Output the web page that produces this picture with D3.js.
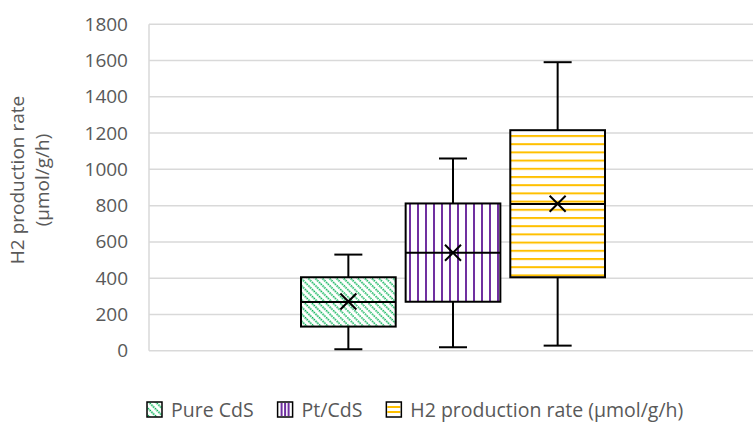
<!DOCTYPE html>
<html>
<head>
<meta charset="utf-8">
<script src="https://cdn.jsdelivr.net/npm/d3@7"></script>
<style>
  html, body { margin: 0; padding: 0; background: #fff; }
  svg { display: block; }
  text { font-family: "Open Sans", sans-serif; fill: #595959; }
</style>
</head>
<body>
<svg id="chart" width="753" height="424"></svg>
<script>
// ---- data ----
const seriesNames = ["Pure CdS", "Pt/CdS", "H2 production rate (µmol/g/h)"];
const mins    = [8, 19, 28];
const q1s     = [133, 270, 405];
const medians = [269, 540, 809];
const q3s     = [405, 812, 1216];
const maxs    = [530, 1060, 1591];
const means   = [271, 540, 810];
const yTicks  = [0, 200, 400, 600, 800, 1000, 1200, 1400, 1600, 1800];
const yTitle  = ["H2 production rate", "(µmol/g/h)"];
const colors  = ["#00b050", "#7030a0", "#ffc000"];

const FS = "19px";
const svg = d3.select("#chart");
const plot = { left: 149, right: 757, top: 24.3, bottom: 350.7 };

const y = d3.scaleLinear().domain([0, 1800]).range([plot.bottom, plot.top]);
const x0 = d3.scaleBand().domain(["g"]).range([plot.left, plot.right]).paddingInner(0).paddingOuter(0.5);
const x1 = d3.scaleBand().domain(seriesNames).range([x0("g"), x0("g") + x0.bandwidth()]).paddingInner(0.095).paddingOuter(0);

// ---- patterns ----
const defs = svg.append("defs");
const pGreen = defs.append("pattern").attr("id", "pat0").attr("patternUnits", "userSpaceOnUse")
  .attr("width", 5).attr("height", 5).attr("patternTransform", "rotate(-45)");
pGreen.append("rect").attr("width", 5).attr("height", 5).attr("fill", "#fff");
pGreen.append("line").attr("x1", 1.2).attr("x2", 1.2).attr("y1", 0).attr("y2", 5)
  .attr("stroke", colors[0]).attr("stroke-width", 1.7).attr("stroke-dasharray", "1.5,1");

const pPurple = defs.append("pattern").attr("id", "pat1").attr("patternUnits", "userSpaceOnUse")
  .attr("width", 8).attr("height", 8).attr("x", 409);
pPurple.append("rect").attr("width", 8).attr("height", 8).attr("fill", "#fff");
pPurple.append("line").attr("x1", 1).attr("x2", 1).attr("y1", 0).attr("y2", 8)
  .attr("stroke", colors[1]).attr("stroke-width", 2);

const pYellow = defs.append("pattern").attr("id", "pat2").attr("patternUnits", "userSpaceOnUse")
  .attr("width", 8).attr("height", 8.2).attr("y", 135);
pYellow.append("rect").attr("width", 8).attr("height", 8.2).attr("fill", "#fff");
pYellow.append("line").attr("x1", 0).attr("x2", 8).attr("y1", 1).attr("y2", 1)
  .attr("stroke", colors[2]).attr("stroke-width", 2);

// ---- gridlines ----
svg.append("g").selectAll("line").data(yTicks).join("line")
  .attr("x1", plot.left).attr("x2", 753)
  .attr("y1", d => y(d)).attr("y2", d => y(d))
  .attr("stroke", "#d9d9d9").attr("stroke-width", 1.5);
svg.append("line").attr("x1", plot.left).attr("x2", plot.left)
  .attr("y1", plot.top).attr("y2", plot.bottom)
  .attr("stroke", "#d9d9d9").attr("stroke-width", 1.5);

// ---- y axis ----
const yAxis = d3.axisLeft(y).tickValues(yTicks).tickFormat(d3.format("d")).tickSize(0).tickPadding(21);
const ga = svg.append("g").attr("transform", `translate(${plot.left},0)`).call(yAxis);
ga.select(".domain").remove();
ga.selectAll("text").attr("font-size", FS).attr("font-family", "Open Sans").attr("fill", "#595959");

// y title
const yt = svg.append("text").attr("transform", "translate(0,180) rotate(-90)")
  .attr("text-anchor", "middle").attr("font-size", FS);
yt.append("tspan").attr("x", 0).attr("y", 24).text(yTitle[0]);
yt.append("tspan").attr("x", 0).attr("y", 49).text(yTitle[1]);

// ---- boxes ----
const data = seriesNames.map((n, i) => ({ name: n, i, min: mins[i], q1: q1s[i], med: medians[i], q3: q3s[i], max: maxs[i], mean: means[i] }));
const g = svg.append("g");
const capW = 28;
data.forEach(d => {
  const bx = x1(d.name), bw = x1.bandwidth(), cx = bx + bw / 2;
  const gg = g.append("g");
  gg.append("line").attr("x1", cx).attr("x2", cx).attr("y1", y(d.q3)).attr("y2", y(d.max)).attr("stroke", "#000").attr("stroke-width", 2);
  gg.append("line").attr("x1", cx).attr("x2", cx).attr("y1", y(d.q1)).attr("y2", y(d.min)).attr("stroke", "#000").attr("stroke-width", 2);
  gg.append("line").attr("x1", cx - capW/2).attr("x2", cx + capW/2).attr("y1", y(d.max)).attr("y2", y(d.max)).attr("stroke", "#000").attr("stroke-width", 2);
  gg.append("line").attr("x1", cx - capW/2).attr("x2", cx + capW/2).attr("y1", y(d.min)).attr("y2", y(d.min)).attr("stroke", "#000").attr("stroke-width", 2);
  gg.append("rect").attr("x", bx).attr("width", bw).attr("y", y(d.q3)).attr("height", y(d.q1) - y(d.q3))
    .attr("fill", `url(#pat${d.i})`).attr("stroke", "#000").attr("stroke-width", 2);
  gg.append("line").attr("x1", bx).attr("x2", bx + bw).attr("y1", y(d.med)).attr("y2", y(d.med)).attr("stroke", "#000").attr("stroke-width", 2);
  const s = 8, my = y(d.mean);
  gg.append("path").attr("d", `M${cx - s},${my - s}L${cx + s},${my + s}M${cx - s},${my + s}L${cx + s},${my - s}`)
    .attr("stroke", "#000").attr("stroke-width", 2).attr("fill", "none");
});

// ---- legend ----
const lg = svg.append("g");
let lx = 147;
const sw = 15, gapText = 9, gapItem = 24;
data.forEach((d, i) => {
  const item = lg.append("g").attr("transform", `translate(${lx},402)`);
  item.append("rect").attr("width", sw).attr("height", sw).attr("fill", "#fff");
  if (i === 0) {
    item.append("rect").attr("width", sw).attr("height", sw).attr("fill", "url(#pat0)");
  } else if (i === 1) {
    [4, 7.5, 11].forEach(xx => item.append("line").attr("x1", xx).attr("x2", xx).attr("y1", 1).attr("y2", 14)
      .attr("stroke", colors[1]).attr("stroke-width", 2));
  } else {
    [5, 10].forEach(yy => item.append("line").attr("x1", 1).attr("x2", 14).attr("y1", yy).attr("y2", yy)
      .attr("stroke", colors[2]).attr("stroke-width", 2));
  }
  item.append("rect").attr("width", sw).attr("height", sw).attr("fill", "none").attr("stroke", "#000").attr("stroke-width", 1.5);
  const t = item.append("text").attr("x", sw + gapText).attr("y", 14.5).attr("font-size", "19.5px").text(d.name);
  lx += sw + gapText + t.node().getComputedTextLength() + gapItem;
});
</script>
</body>
</html>
